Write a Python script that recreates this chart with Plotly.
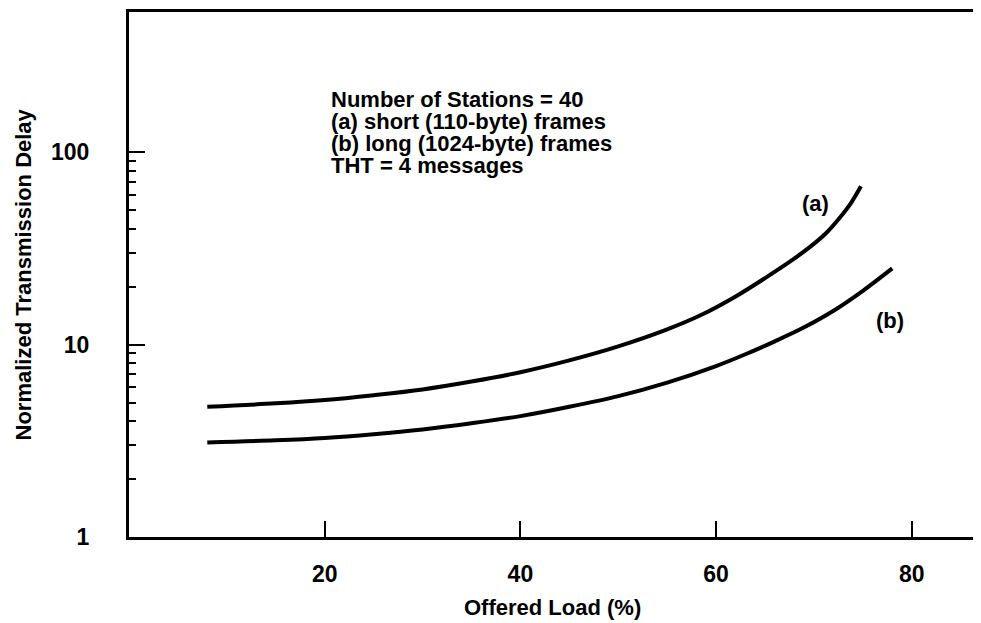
import math
import plotly.graph_objects as go

# ---- data ----
load_a = [8, 15, 20, 25, 30, 35, 40, 45, 50, 55, 58.4, 62, 65.2, 67.5, 69.6, 71.2, 72.7, 73.8, 74.8]
delay_a = [4.75, 4.95, 5.15, 5.46, 5.85, 6.43, 7.19, 8.28, 9.79, 12.0, 14.2, 17.8, 22.5,
           26.9, 32.2, 37.8, 46.1, 54.6, 66.5]

load_b = [8, 15, 20, 25, 30, 35, 40, 45, 50, 55, 60, 63, 66, 69, 72, 75, 78]
delay_b = [3.1, 3.18, 3.27, 3.42, 3.62, 3.9, 4.25, 4.75, 5.4, 6.35, 7.74, 8.91, 10.4,
           12.3, 15.0, 19.05, 24.9]

x_ticks = [20, 40, 60, 80]
x_ticktext = ["20", "40", "60", "80"]
y_ticks = [1, 10, 100]
y_ticktext = ["1", "10", "100"]
y_minor = [2, 3, 4, 5, 6, 7, 8, 9, 20, 30, 40, 50, 60, 70, 80, 90]

curve_labels = ["(a)", "(b)"]
curve_label_x = [70.2, 77.8]
curve_label_y = [54, 13.4]

info_lines = [
    "Number of Stations = 40",
    "(a) short (110-byte) frames",
    "(b) long (1024-byte) frames",
    "THT = 4 messages",
]

x_title = "Offered Load (%)"
y_title = "Normalized Transmission Delay"

FONT = "Liberation Sans, Arial, Helvetica, sans-serif"

# page has an 8px body margin; figure coords are page coords minus 8
OFF = 8
W, H = 981 - OFF, 623 - OFF
L = 129 - OFF
T = 12 - OFF
BOT = 537 - OFF
PW = W - L
PH = BOT - T


def bold(size):
    return dict(family=FONT, size=size, color="black", weight="bold")


fig = go.Figure()
for xs, ys in [(load_a, delay_a), (load_b, delay_b)]:
    fig.add_trace(go.Scatter(x=xs, y=ys, mode="lines",
                             line=dict(color="black", width=4, shape="spline", smoothing=1.0),
                             showlegend=False, hoverinfo="skip"))

ann = []
for t, xv, yv in zip(curve_labels, curve_label_x, curve_label_y):
    ann.append(dict(x=xv, y=math.log10(yv), xref="x", yref="y", text=t,
                    showarrow=False, font=bold(22)))

line_y_page = [99, 121.5, 143.5, 165.5]
for t, py in zip(info_lines, line_y_page):
    ann.append(dict(x=(329 - 129) / PW, y=(BOT - (py - OFF)) / PH, xref="paper", yref="paper",
                    text=t, showarrow=False, xanchor="left", yanchor="middle", font=bold(22)))

ann.append(dict(x=(23 - 129) / PW, y=0.5, xref="paper", yref="paper", text=y_title,
                textangle=-90, showarrow=False, xanchor="center", yanchor="middle", font=bold(22)))
ann.append(dict(x=(552 - 129) / PW, y=-(607 - 537) / PH, xref="paper", yref="paper",
                text=x_title, showarrow=False, xanchor="center", yanchor="middle", font=bold(22)))

fig.update_layout(
    width=W, height=H,
    margin=dict(l=L, r=0, t=T, b=H - BOT, pad=0),
    paper_bgcolor="white", plot_bgcolor="white",
    annotations=ann,
    xaxis=dict(range=[0, PW / 9.785], showgrid=False, zeroline=False, showline=True,
               linecolor="black", linewidth=3, mirror=True,
               ticks="inside", ticklen=16, tickwidth=2, tickcolor="black",
               tickmode="array", tickvals=x_ticks, ticktext=x_ticktext,
               ticklabelstandoff=14, tickfont=bold(23)),
    yaxis=dict(type="log", range=[0, 2.729], showgrid=False, zeroline=False, showline=True,
               linecolor="black", linewidth=3, mirror=False,
               ticks="inside", ticklen=16, tickwidth=2, tickcolor="black",
               tickmode="array", tickvals=y_ticks, ticktext=y_ticktext,
               ticklabelstandoff=32, tickfont=bold(23),
               minor=dict(ticks="inside", ticklen=7, tickwidth=2, tickcolor="black",
                          tickmode="array", tickvals=y_minor, showgrid=False)),
)

fig.write_html("out.html")
